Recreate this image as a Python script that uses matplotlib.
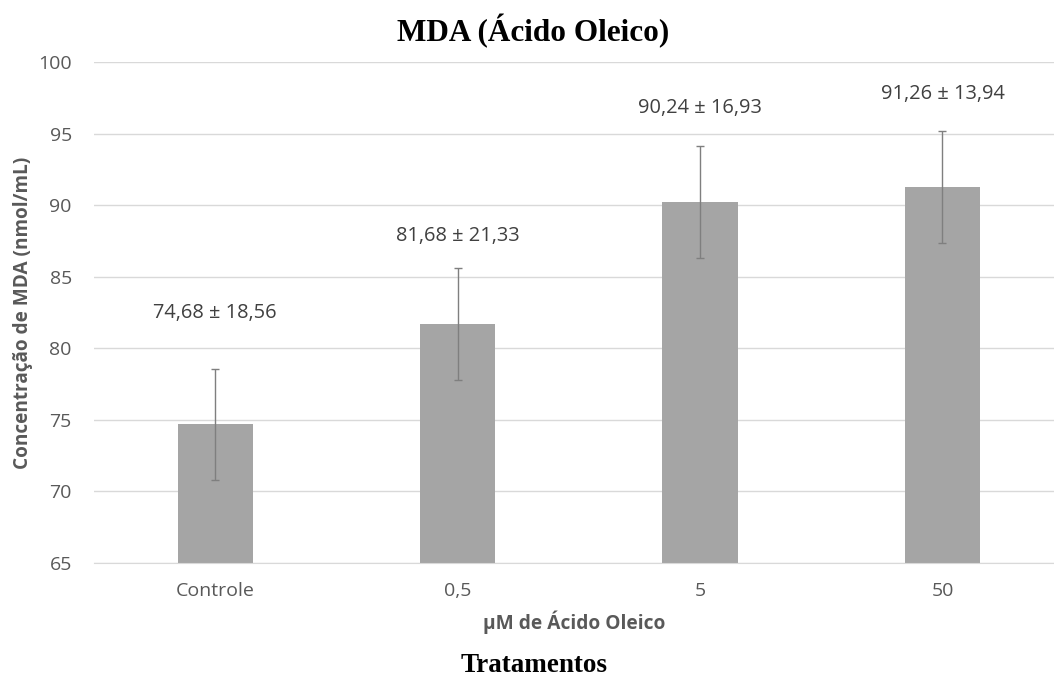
import matplotlib
matplotlib.use('Agg')
import matplotlib.pyplot as plt

# dados
categorias = ['Controle', '0,5', '5', '50']
medias = [74.68, 81.68, 90.24, 91.26]
desvios = [18.56, 21.33, 16.93, 13.94]
erro_barra = [3.9, 3.9, 3.9, 3.9]
yticks = [65, 70, 75, 80, 85, 90, 95, 100]

plt.rcParams['font.family'] = ['Open Sans', 'DejaVu Sans']

fig = plt.figure(figsize=(10.54, 6.77), dpi=100)
ax = fig.add_axes([94/1054, 114/677, 960/1054, 501/677])

x = range(len(categorias))
ax.bar(x, medias, width=0.31, color='#a5a5a5', zorder=2)
ax.errorbar(x, medias, yerr=erro_barra, fmt='none', ecolor='#7f7f7f',
            elinewidth=1, capsize=3, capthick=1, zorder=3)

# rótulos média ± desvio
desloc = [40, 23, 27, 27]
for i in x:
    txt = f'{medias[i]:.2f} ± {desvios[i]:.2f}'.replace('.', ',')
    ax.annotate(txt, (i, medias[i] + erro_barra[i]), xytext=(0, desloc[i]),
                textcoords='offset points', ha='center', va='center',
                fontsize=14.4, color='#404040')

ax.set_ylim(65, 100)
ax.set_xlim(-0.5, 3.46)
ax.set_yticks(yticks)
ax.set_yticklabels([str(v) for v in yticks])
ax.set_xticks(list(x))
ax.set_xticklabels(categorias)
ax.tick_params(axis='both', length=0, labelsize=14, labelcolor='#595959')
ax.tick_params(axis='y', pad=16)
ax.tick_params(axis='x', pad=14)
ax.grid(axis='y', color='#d9d9d9', linewidth=1, zorder=0)
ax.set_axisbelow(True)
for s in ['top', 'right', 'left']:
    ax.spines[s].set_visible(False)
ax.spines['bottom'].set_color('#d9d9d9')

ax.set_ylabel('Concentração de MDA (nmol/mL)', fontsize=13.7, fontweight='bold',
              color='#595959', labelpad=4)
ax.set_xlabel('µM de Ácido Oleico', fontsize=13.8, fontweight='bold',
              color='#595959', labelpad=7)

fig.text(533/1054, 1 - 31/677, 'MDA (Ácido Oleico)', ha='center', va='center',
         fontsize=22.5, fontweight='bold', family=['Liberation Serif', 'DejaVu Serif'])
fig.text(534/1054, 1 - 666/677, 'Tratamentos', ha='center', va='center',
         fontsize=19.5, fontweight='bold', family=['Liberation Serif', 'DejaVu Serif'])

fig.savefig('out.png', dpi=100)
